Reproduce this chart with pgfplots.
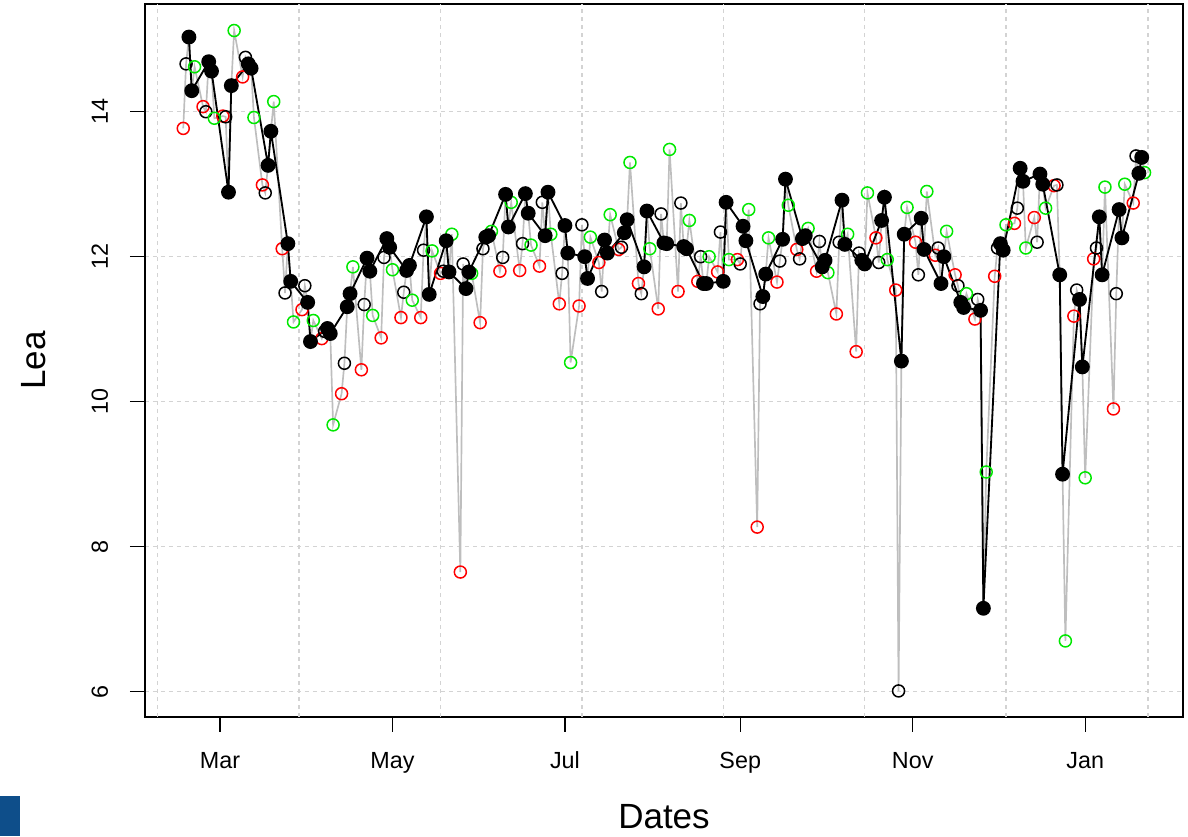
\documentclass[border=0pt]{standalone}
\usepackage{pgfplots}
\pgfplotsset{compat=1.18}
\usepackage{pgfplotstable}
\usepackage{fontspec}
\setmainfont{Liberation Sans}
\definecolor{rred}{RGB}{255,0,0}
\definecolor{rgreen}{RGB}{0,232,0}
\definecolor{rgray}{RGB}{190,190,190}
\definecolor{gridgray}{RGB}{211,211,211}
\definecolor{cornerblue}{RGB}{14,78,138}
% x = days since 1 March
\pgfplotstableread[row sep=\\]{
x y\\
-13 13.77\\ -6 14.07\\ 1 13.94\\ 8 14.48\\ 15 12.99\\ 22 12.11\\ 29 11.27\\ 36 10.87\\ 43 10.11\\ 50 10.44\\
57 10.88\\ 64 11.16\\ 71 11.16\\ 78 11.77\\ 85 7.65\\ 92 11.09\\ 99 11.80\\ 106 11.81\\ 113 11.87\\ 120 11.35\\
127 11.32\\ 134 11.92\\ 141 12.10\\ 148 11.63\\ 155 11.28\\ 162 11.52\\ 169 11.66\\ 176 11.79\\ 183 11.96\\ 190 8.27\\
197 11.65\\ 204 12.10\\ 211 11.80\\ 218 11.21\\ 225 10.69\\ 232 12.26\\ 239 11.54\\ 246 12.20\\ 253 12.02\\ 260 11.75\\
267 11.14\\ 274 11.73\\ 281 12.46\\ 288 12.54\\ 295 12.98\\ 302 11.18\\ 309 11.97\\ 316 9.90\\ 323 12.74\\
}\redpts
\pgfplotstableread[row sep=\\]{
x y\\
-12 14.66\\ -5 14.00\\ 2 13.93\\ 9 14.75\\ 16 12.88\\ 23 11.50\\ 30 11.60\\ 37 10.97\\ 44 10.53\\ 51 11.34\\
58 11.99\\ 65 11.51\\ 72 12.09\\ 79 11.80\\ 86 11.90\\ 93 12.11\\ 100 11.99\\ 107 12.18\\ 114 12.75\\ 121 11.77\\
128 12.44\\ 135 11.52\\ 142 12.13\\ 149 11.49\\ 156 12.59\\ 163 12.74\\ 170 12.00\\ 177 12.34\\ 184 11.90\\ 191 11.35\\
198 11.94\\ 205 11.97\\ 212 12.21\\ 219 12.20\\ 226 12.05\\ 233 11.92\\ 240 6.01\\ 247 11.75\\ 254 12.12\\ 261 11.60\\
268 11.41\\ 275 12.12\\ 282 12.67\\ 289 12.20\\ 296 12.99\\ 303 11.54\\ 310 12.12\\ 317 11.49\\ 324 13.39\\
}\openpts
\pgfplotstableread[row sep=\\]{
x y\\
-11 15.03\\ -10 14.29\\ -4 14.69\\ -3 14.56\\ 3 12.89\\ 4 14.36\\ 10 14.66\\ 11 14.60\\ 17 13.26\\ 18 13.73\\
24 12.18\\ 25 11.66\\ 31 11.37\\ 32 10.83\\ 38 11.01\\ 39 10.94\\ 45 11.31\\ 46 11.49\\ 52 11.98\\ 53 11.80\\
59 12.25\\ 60 12.13\\ 66 11.81\\ 67 11.88\\ 73 12.55\\ 74 11.48\\ 80 12.22\\ 81 11.79\\ 87 11.56\\ 88 11.79\\
94 12.27\\ 95 12.29\\ 101 12.86\\ 102 12.41\\ 108 12.87\\ 109 12.60\\ 115 12.29\\ 116 12.89\\ 122 12.43\\ 123 12.05\\
129 12.00\\ 130 11.70\\ 136 12.23\\ 137 12.05\\ 143 12.33\\ 144 12.51\\ 150 11.86\\ 151 12.63\\ 157 12.19\\ 158 12.18\\
164 12.14\\ 165 12.11\\ 171 11.63\\ 172 11.63\\ 178 11.66\\ 179 12.75\\ 185 12.42\\ 186 12.22\\ 192 11.45\\ 193 11.76\\
199 12.24\\ 200 13.07\\ 206 12.25\\ 207 12.29\\ 213 11.86\\ 214 11.95\\ 220 12.78\\ 221 12.17\\ 227 11.95\\ 228 11.90\\
234 12.50\\ 235 12.82\\ 241 10.56\\ 242 12.31\\ 248 12.53\\ 249 12.10\\ 255 11.63\\ 256 12.00\\ 262 11.37\\ 263 11.30\\
269 11.26\\ 270 7.15\\ 276 12.18\\ 277 12.09\\ 283 13.22\\ 284 13.04\\ 290 13.14\\ 291 13.00\\ 297 11.75\\ 298 9.00\\
304 11.41\\ 305 10.48\\ 311 12.55\\ 312 11.75\\ 318 12.65\\ 319 12.26\\ 325 13.15\\ 326 13.37\\
}\filledpts
\pgfplotstableread[row sep=\\]{
x y\\
-9 14.62\\ -2 13.91\\ 5 15.12\\ 12 13.92\\ 19 14.14\\ 26 11.10\\ 33 11.12\\ 40 9.68\\ 47 11.86\\ 54 11.19\\
61 11.82\\ 68 11.40\\ 75 12.08\\ 82 12.31\\ 89 11.77\\ 96 12.35\\ 103 12.75\\ 110 12.16\\ 117 12.31\\ 124 10.54\\
131 12.27\\ 138 12.58\\ 145 13.30\\ 152 12.11\\ 159 13.48\\ 166 12.50\\ 173 12.00\\ 180 11.96\\ 187 12.65\\ 194 12.26\\
201 12.71\\ 208 12.39\\ 215 11.78\\ 222 12.31\\ 229 12.88\\ 236 11.96\\ 243 12.68\\ 250 12.90\\ 257 12.35\\ 264 11.49\\
271 9.03\\ 278 12.44\\ 285 12.12\\ 292 12.67\\ 299 6.70\\ 306 8.95\\ 313 12.96\\ 320 13.00\\ 327 13.16\\
}\greenpts
\pgfplotstablevertcat{\allpts}{\redpts}
\pgfplotstablevertcat{\allpts}{\openpts}
\pgfplotstablevertcat{\allpts}{\filledpts}
\pgfplotstablevertcat{\allpts}{\greenpts}
\pgfplotstablesort[sort key=x]{\allsorted}{\allpts}
\begin{document}
\begin{tikzpicture}
\path[use as bounding box] (0pt,0pt) rectangle (712.8pt,501.6pt);
\fill[cornerblue] (0pt,0pt) rectangle (12pt,24pt);
\begin{axis}[
  at={(87pt,71.6pt)}, anchor=south west,
  scale only axis, width=622.8pt, height=427.6pt,
  xmin=-26.53, xmax=340.6, ymin=5.655, ymax=15.486,
  axis line style={line width=1pt},
  tick pos=left, tick align=outside,
  major tick length=9pt,
  every tick/.style={black, line width=0.8pt},
  xtick={0,61,122,184,245,306},
  xticklabels={Mar,May,Jul,Sep,Nov,Jan},
  ytick={6,8,10,12,14},
  /pgf/number format/assume math mode=true,
  tick label style={font=\fontsize{14}{16}\selectfont},
  yticklabel style={rotate=90, anchor=south, inner sep=0pt, yshift=13pt},
  xticklabel style={anchor=north, inner sep=0pt, yshift=-12pt},
  ymajorgrids,
  extra x ticks={-22.2,27.9,78.1,128,178,228,278,328.2},
  extra x tick labels={},
  extra x tick style={grid=major, major tick length=0pt},
  grid style={gridgray, line width=0.8pt, dash pattern=on 2.4pt off 2.4pt},
  xlabel={Dates}, ylabel={Lea},
  label style={font=\fontsize{21}{24}\selectfont},
  xlabel style={at={(axis description cs:0.5,0)}, anchor=center, yshift=-60pt},
  ylabel style={at={(axis description cs:0,0.5)}, anchor=center, rotate=0, yshift=67pt},
  clip=false,
]
\addplot[rgray, line width=1pt, no markers] table[x=x,y=y]{\allsorted};
\addplot[only marks, mark=o, rred, mark size=3.6pt, line width=0.9pt] table[x=x,y=y]{\redpts};
\addplot[only marks, mark=o, black, mark size=3.6pt, line width=0.9pt] table[x=x,y=y]{\openpts};
\addplot[only marks, mark=o, rgreen, mark size=3.6pt, line width=0.9pt] table[x=x,y=y]{\greenpts};
\addplot[black, line width=1.1pt, mark=*, mark size=3.9pt] table[x=x,y=y]{\filledpts};
\end{axis}
\end{tikzpicture}
\end{document}
